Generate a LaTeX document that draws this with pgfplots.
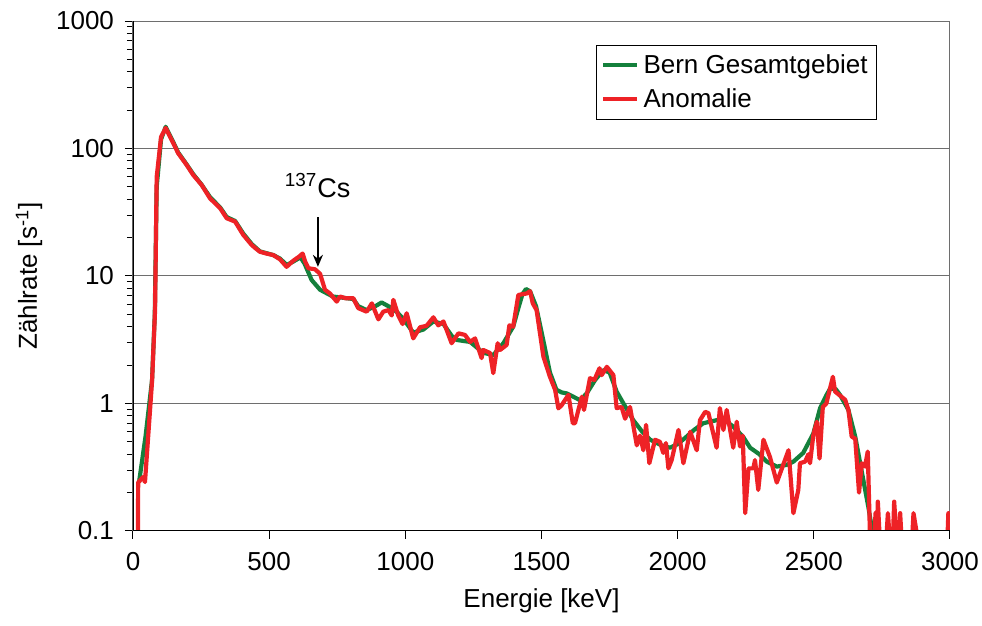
\documentclass[border=0pt]{standalone}
\usepackage{pgfplots}
\pgfplotsset{compat=1.18}
\usetikzlibrary{arrows.meta}
\usepackage{fontspec}
\setmainfont{Liberation Sans}
\definecolor{cgreen}{RGB}{20,128,60}
\definecolor{cred}{RGB}{238,34,38}
\definecolor{cgrid}{RGB}{110,110,110}
\begin{document}
\begin{tikzpicture}
\path[use as bounding box] (-66.5pt,-47.5pt) rectangle (424.5pt,265.5pt);
\begin{axis}[
  at={(0,0)}, anchor=south west,
  scale only axis, width=408.5pt, height=255pt,
  font=\fontsize{13}{15.6}\selectfont,
  ymode=log, xmin=0, xmax=3000, ymin=0.1, ymax=1000,
  xtick={0,500,1000,1500,2000,2500,3000},
  xticklabels={0,500,1000,1500,2000,2500,3000},
  ytick={0.1,1,10,100,1000},
  yticklabels={0.1,1,10,100,1000},
  minor x tick num=0,
  xtick pos=bottom, ytick pos=left,
  tick align=outside,
  major tick length=4pt, minor tick length=3pt,
  every tick/.style={black, line width=0.5pt},
  ymajorgrids, major grid style={cgrid, line width=0.5pt},
  axis line style={cgrid, line width=0.5pt},
  xticklabel style={yshift=-3pt},
  yticklabel style={xshift=-2pt},
  xlabel={Energie [keV]},
  ylabel={Zählrate [s\textsuperscript{-1}]},
  xlabel style={yshift=-2pt},
  ylabel style={yshift=0pt},
  legend style={at={(rel axis cs:0.9107,0.953)}, anchor=north east,
    draw=black, line width=0.5pt, font=\fontsize{13}{15.6}\selectfont,
    inner sep=2.5pt, row sep=2pt},
  legend cell align=left,
  every axis plot/.append style={line join=round},
]
\addplot[cgreen, line width=2.1pt] coordinates {
(22,0.24)(46,0.55)(70,1.53)(80,5)(87,50)(103,118)(120,148)(148,112)(166,93)(197,75)(221,63)(252,52)(283,41.5)(320,34.5)(344,29)(375,27)(405,21.5)(436,17.8)(466,15.6)(515,14.6)(540,13.7)(564,12.2)(589,13.0)(615,14.0)(630,12.5)(656,9.3)(687,7.8)(734,6.9)(760,6.8)(809,6.6)(827,5.8)(858,5.4)(890,5.8)(913,6.2)(944,5.7)(968,5.25)(993,4.6)(1029,3.6)(1066,3.8)(1103,4.4)(1140,4.2)(1170,3.4)(1189,3.15)(1238,3.04)(1286,2.5)(1323,2.4)(1360,2.97)(1396,4.0)(1415,5.6)(1430,7.2)(1443,7.9)(1458,7.6)(1480,5.8)(1507,3.1)(1531,1.75)(1555,1.28)(1575,1.22)(1593,1.2)(1642,1.06)(1666,1.2)(1697,1.53)(1727,1.83)(1750,1.75)(1776,1.24)(1801,1.0)(1837,0.74)(1870,0.6)(1899,0.52)(1940,0.47)(1972,0.45)(2000,0.48)(2033,0.55)(2060,0.62)(2094,0.70)(2143,0.74)(2180,0.72)(2204,0.66)(2240,0.55)(2266,0.45)(2300,0.40)(2327,0.35)(2364,0.32)(2400,0.33)(2425,0.35)(2461,0.41)(2498,0.58)(2523,0.92)(2545,1.15)(2560,1.31)(2580,1.30)(2596,1.17)(2627,0.89)(2652,0.55)(2675,0.30)(2700,0.155)(2715,0.10)(2725,0.08)
};
\addlegendentry{Bern Gesamtgebiet}
\addplot[cred, line width=2.1pt] coordinates {
(18,0.08)(19,0.24)(37,0.265)(44,0.242)(70,1.5)(81,5.4)(87,59.7)(103,123)(120,145)(148,110)(166,91.7)(197,74.3)(221,62)(252,51.8)(283,40.6)(320,34)(344,28.4)(360,27.5)(375,26.7)(405,21)(436,17.5)(450,16.5)(466,15.5)(490,15.0)(515,14.6)(540,13.5)(564,11.8)(589,13.2)(610,14.2)(623,15.0)(632,13.0)(644,11.5)(668,11.3)(687,10.4)(705,7.8)(723,7.3)(748,6.3)(760,6.9)(780,6.7)(809,6.7)(827,5.6)(858,5.25)(877,6.1)(901,4.57)(919,5.25)(938,5.4)(950,4.9)(956,6.5)(974,4.9)(990,4.2)(1005,5.1)(1029,3.24)(1054,3.96)(1078,4.07)(1103,4.74)(1121,4.1)(1140,4.4)(1170,2.97)(1195,3.55)(1219,3.45)(1238,3.04)(1256,3.24)(1280,2.27)(1286,2.63)(1311,2.49)(1323,1.73)(1339,2.97)(1348,2.63)(1372,2.88)(1382,4.1)(1396,4.0)(1415,7.1)(1446,7.3)(1458,7.6)(1468,6.1)(1482,5.4)(1507,2.33)(1531,1.62)(1550,1.28)(1562,0.916)(1574,0.97)(1599,1.17)(1615,0.70)(1623,0.70)(1648,1.13)(1656,0.89)(1678,1.58)(1694,1.53)(1713,1.89)(1721,1.67)(1740,1.94)(1764,1.67)(1776,0.92)(1794,0.94)(1807,0.76)(1825,0.94)(1850,0.47)(1862,0.56)(1874,0.43)(1884,0.68)(1896,0.34)(1917,0.52)(1935,0.50)(1947,0.41)(1957,0.49)(1966,0.31)(1978,0.36)(2003,0.62)(2021,0.34)(2046,0.60)(2070,0.43)(2082,0.74)(2101,0.86)(2113,0.84)(2143,0.45)(2155,0.92)(2168,0.62)(2180,0.89)(2204,0.45)(2217,0.72)(2229,0.46)(2239,0.56)(2248,0.138)(2260,0.31)(2278,0.31)(2284,0.36)(2296,0.21)(2315,0.52)(2339,0.38)(2364,0.24)(2407,0.43)(2425,0.138)(2443,0.21)(2449,0.34)(2468,0.35)(2480,0.40)(2486,0.34)(2498,0.56)(2511,0.72)(2521,0.37)(2533,0.94)(2546,1.0)(2570,1.62)(2578,1.24)(2615,1.07)(2627,0.89)(2639,0.55)(2652,0.53)(2666,0.20)(2676,0.34)(2688,0.32)(2698,0.42)(2707,0.08)(2720,0.08)(2727,0.14)(2732,0.08)(2735,0.17)(2743,0.08)(2765,0.08)(2772,0.138)(2780,0.08)(2790,0.08)(2795,0.17)(2805,0.08)(2812,0.08)(2817,0.138)(2823,0.08)(2860,0.08)(2866,0.138)(2884,0.08)(2990,0.08)(2994,0.138)(2998,0.08)
};
\addlegendentry{Anomalie}
\draw[black, line width=0.6pt] (rel axis cs:0,1) -- (rel axis cs:0,0) -- (rel axis cs:1,0);
\draw[-{Stealth[length=6pt,width=5pt]}, black, line width=0.8pt] (axis cs:679,29) -- (axis cs:679,11.8);
\node[anchor=base, font=\fontsize{13.5}{16}\selectfont, inner sep=0pt] at (axis cs:678,41.5) {\textsuperscript{137}Cs};
\end{axis}
\end{tikzpicture}
\end{document}
